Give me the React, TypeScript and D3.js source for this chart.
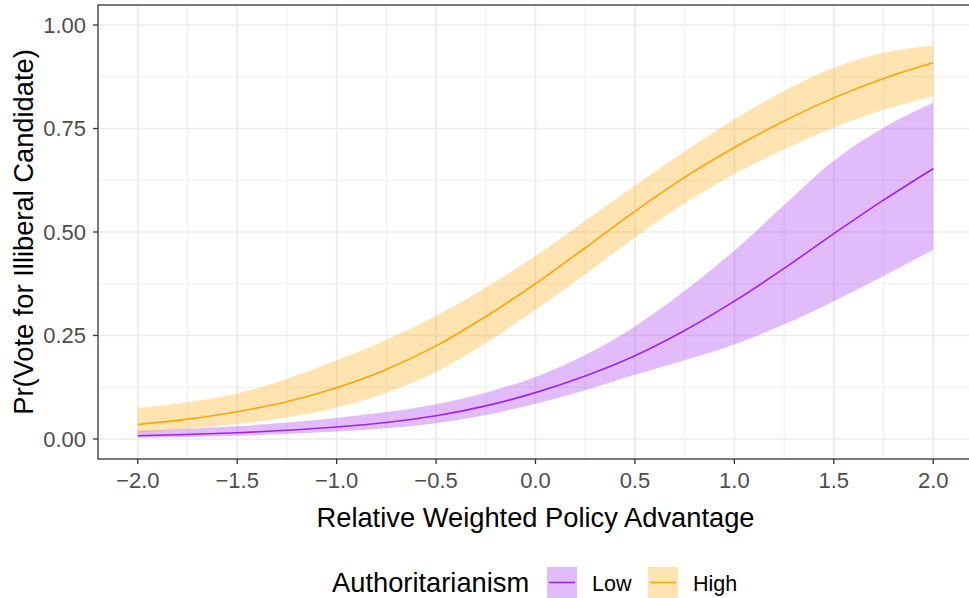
import React from "react";
import * as d3 from "d3";

const xValues = [-2, -1.75, -1.5, -1.25, -1, -0.75, -0.5, -0.25, 0, 0.25, 0.5, 0.75, 1, 1.25, 1.5, 1.75, 2];
const highFit = [0.035, 0.048, 0.066, 0.090, 0.124, 0.168, 0.225, 0.296, 0.375, 0.462, 0.550, 0.632, 0.704, 0.768, 0.824, 0.871, 0.909];
const highUpper = [0.075, 0.089, 0.110, 0.145, 0.190, 0.240, 0.297, 0.366, 0.442, 0.527, 0.612, 0.695, 0.772, 0.841, 0.897, 0.933, 0.950];
const highLower = [0.016, 0.025, 0.036, 0.052, 0.076, 0.112, 0.162, 0.232, 0.312, 0.398, 0.487, 0.570, 0.640, 0.700, 0.752, 0.795, 0.828];
const lowFit = [0.008, 0.011, 0.015, 0.021, 0.029, 0.040, 0.056, 0.080, 0.112, 0.152, 0.201, 0.262, 0.333, 0.412, 0.496, 0.577, 0.653];
const lowUpper = [0.020, 0.025, 0.031, 0.040, 0.051, 0.065, 0.084, 0.112, 0.150, 0.203, 0.272, 0.358, 0.455, 0.565, 0.672, 0.752, 0.812];
const lowLower = [0.003, 0.005, 0.008, 0.012, 0.018, 0.026, 0.038, 0.058, 0.085, 0.118, 0.155, 0.190, 0.228, 0.277, 0.333, 0.394, 0.457];

const xTicks = [-2, -1.5, -1, -0.5, 0, 0.5, 1, 1.5, 2];
const xMinor = [-1.75, -1.25, -0.75, -0.25, 0.25, 0.75, 1.25, 1.75];
const yTicks = [0, 0.25, 0.5, 0.75, 1];
const yMinor = [0.125, 0.375, 0.625, 0.875];

const seriesNames = ["Low", "High"];
const seriesColors = ["#A020F0", "#FFA500"];

const FONT = "'Liberation Sans', Arial, Helvetica, sans-serif";

export default function App() {
  const W = 969, H = 598;
  const left = 98, top = 5, right = 973, bottom = 459;
  const x = d3.scaleLinear().domain([-2.2, 2.2]).range([left, right]);
  const y = d3.scaleLinear().domain([0, 1]).range([439, 25]);

  const series = [
    { fit: lowFit, lo: lowLower, hi: lowUpper, color: seriesColors[0] },
    { fit: highFit, lo: highLower, hi: highUpper, color: seriesColors[1] },
  ];
  const area = d3
    .area<number>()
    .x((_, i) => x(xValues[i]))
    .curve(d3.curveMonotoneX);
  const line = d3
    .line<number>()
    .x((_, i) => x(xValues[i]))
    .y((d) => y(d))
    .curve(d3.curveMonotoneX);

  const fmtX = (v: number) => (v < 0 ? "\u2212" : "") + Math.abs(v).toFixed(1);

  return (
    <svg width={W} height={H} style={{ position: "absolute", left: 0, top: 0, background: "#fff" }} fontFamily={FONT}>
      <defs>
        <clipPath id="panel">
          <rect x={left} y={top} width={right - left} height={bottom - top} />
        </clipPath>
      </defs>
      <rect x={0} y={0} width={W} height={H} fill="#fff" />
      <g clipPath="url(#panel)">
        {xMinor.map((v) => (
          <line key={"xm" + v} x1={x(v)} x2={x(v)} y1={top} y2={bottom} stroke="#EBEBEB" strokeWidth={0.9} />
        ))}
        {yMinor.map((v) => (
          <line key={"ym" + v} x1={left} x2={right} y1={y(v)} y2={y(v)} stroke="#EBEBEB" strokeWidth={0.9} />
        ))}
        {xTicks.map((v) => (
          <line key={"xg" + v} x1={x(v)} x2={x(v)} y1={top} y2={bottom} stroke="#EBEBEB" strokeWidth={1.7} />
        ))}
        {yTicks.map((v) => (
          <line key={"yg" + v} x1={left} x2={right} y1={y(v)} y2={y(v)} stroke="#EBEBEB" strokeWidth={1.7} />
        ))}
        {series.map((s, k) => (
          <path
            key={"band" + k}
            d={area.y0((_, i) => y(s.lo[i])).y1((d) => y(d))(s.hi) || ""}
            fill={s.color}
            fillOpacity={0.3}
          />
        ))}
        {series.map((s, k) => (
          <path key={"line" + k} d={line(s.fit) || ""} fill="none" stroke={s.color} strokeWidth={1.6} />
        ))}
      </g>
      <rect x={left} y={top} width={right - left} height={bottom - top} fill="none" stroke="#333" strokeWidth={1.3} />
      {yTicks.map((v) => (
        <g key={"yt" + v}>
          <line x1={left - 5} x2={left} y1={y(v)} y2={y(v)} stroke="#333" strokeWidth={1.3} />
          <text x={left - 12} y={y(v)} dy="0.36em" textAnchor="end" fontSize={22} fill="#4D4D4D">
            {v.toFixed(2)}
          </text>
        </g>
      ))}
      {xTicks.map((v) => (
        <g key={"xt" + v}>
          <line x1={x(v)} x2={x(v)} y1={bottom} y2={bottom + 5} stroke="#333" strokeWidth={1.3} />
          <text x={x(v)} y={487.5} textAnchor="middle" fontSize={22} fill="#4D4D4D">
            {fmtX(v)}
          </text>
        </g>
      ))}
      <text x={(left + right) / 2} y={527} textAnchor="middle" fontSize={27.3} fill="#000">
        Relative Weighted Policy Advantage
      </text>
      <text
        transform={`translate(33, ${(top + bottom) / 2}) rotate(-90)`}
        textAnchor="middle"
        fontSize={27.3}
        fill="#000"
      >
        Pr(Vote for Illiberal Candidate)
      </text>
      <g>
        <text x={332} y={592} fontSize={27.3} fill="#000">
          Authoritarianism
        </text>
        {seriesNames.map((name, k) => {
          const kx = k === 0 ? 547 : 648;
          return (
            <g key={"leg" + name}>
              <rect x={kx} y={567} width={30} height={31} fill="#fff" />
              <rect x={kx} y={567} width={30} height={31} fill={seriesColors[k]} fillOpacity={0.3} />
              <line x1={kx + 2} x2={kx + 28} y1={582.5} y2={582.5} stroke={seriesColors[k]} strokeWidth={1.6} />
              <text x={kx + 45} y={591} fontSize={21.5} fill="#000">
                {name}
              </text>
            </g>
          );
        })}
      </g>
    </svg>
  );
}
